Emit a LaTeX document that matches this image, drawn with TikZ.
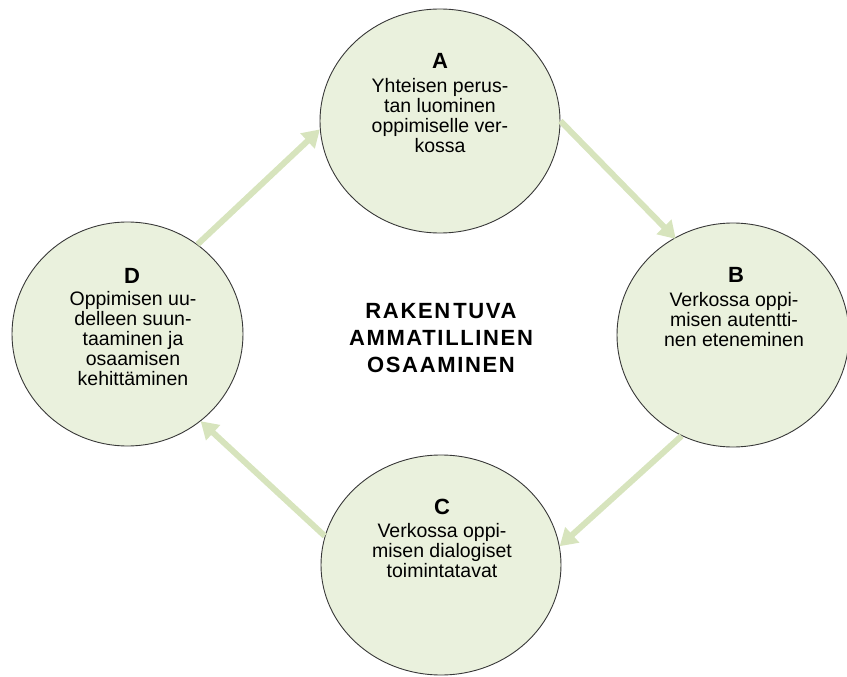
\documentclass[tikz,border=0pt]{standalone}
\usepackage{fontspec}
\setmainfont{Liberation Sans}
\usetikzlibrary{shapes.geometric,arrows.meta}
\definecolor{circfill}{HTML}{EAF1DD}
\definecolor{arrowcol}{HTML}{D7E4BD}
\definecolor{circline}{HTML}{383838}
\begin{document}
\begin{tikzpicture}[x=1pt,y=-1pt,
  stage/.style={ellipse, draw=circline, line width=0.9pt, fill=circfill, inner sep=0pt},
  head/.style={anchor=base, inner sep=0pt, font=\fontsize{22}{24}\selectfont\bfseries},
  body/.style={anchor=north, inner sep=0pt, align=center, font=\fontsize{19.5}{20}\selectfont},
  maintitle/.style={anchor=north, inner sep=0pt, align=center, font=\fontsize{22}{27}\selectfont\bfseries\addfontfeature{LetterSpace=7.5}},
  flow/.style={draw=arrowcol, line width=6pt, -{Triangle[width=20pt,length=17pt]}}]
\useasboundingbox (0,0) rectangle (847,677);
% circles
\node[stage, minimum width=240pt, minimum height=224pt] (A) at (440,121) {};
\node[stage, minimum width=232pt, minimum height=224pt] (B) at (733,335) {};
\node[stage, minimum width=240pt, minimum height=220pt] (C) at (441,565) {};
\node[stage, minimum width=231pt, minimum height=224pt] (D) at (127.5,334) {};
% texts
\node[head] (Ah) at (440,68.5) {A};
\node[body] (At) at (440,78.6) {Yhteisen perus-\\tan luominen\\oppimiselle ver-\\kossa};
\node[head] (Bh) at (736,282.7) {B};
\node[body] (Bt) at (734,292) {Verkossa oppi-\\misen autentti-\\nen eteneminen};
\node[head] (Ch) at (442,514) {C};
\node[body] (Ct) at (442,523) {Verkossa oppi-\\misen dialogiset\\toimintatavat};
\node[head] (Dh) at (132,283.5) {D};
\node[body] (Dt) at (133,291.3) {Oppimisen uu-\\delleen suun-\\taaminen ja\\osaamisen\\kehittäminen};
\node[maintitle] (T) at (441,303.3) {RAKEN\kern3pt TUVA\\AMMATILLINEN\\OSAAMINEN};
% connectors
\draw[flow] (A.0) -- ([shift={(-4pt,-4pt)}]B.118);
\draw[flow] (B.243) -- (C.9);
\draw[flow] (C.166) -- (D.-50);
\draw[flow] (D.52) -- (A.184);
\end{tikzpicture}
\end{document}
